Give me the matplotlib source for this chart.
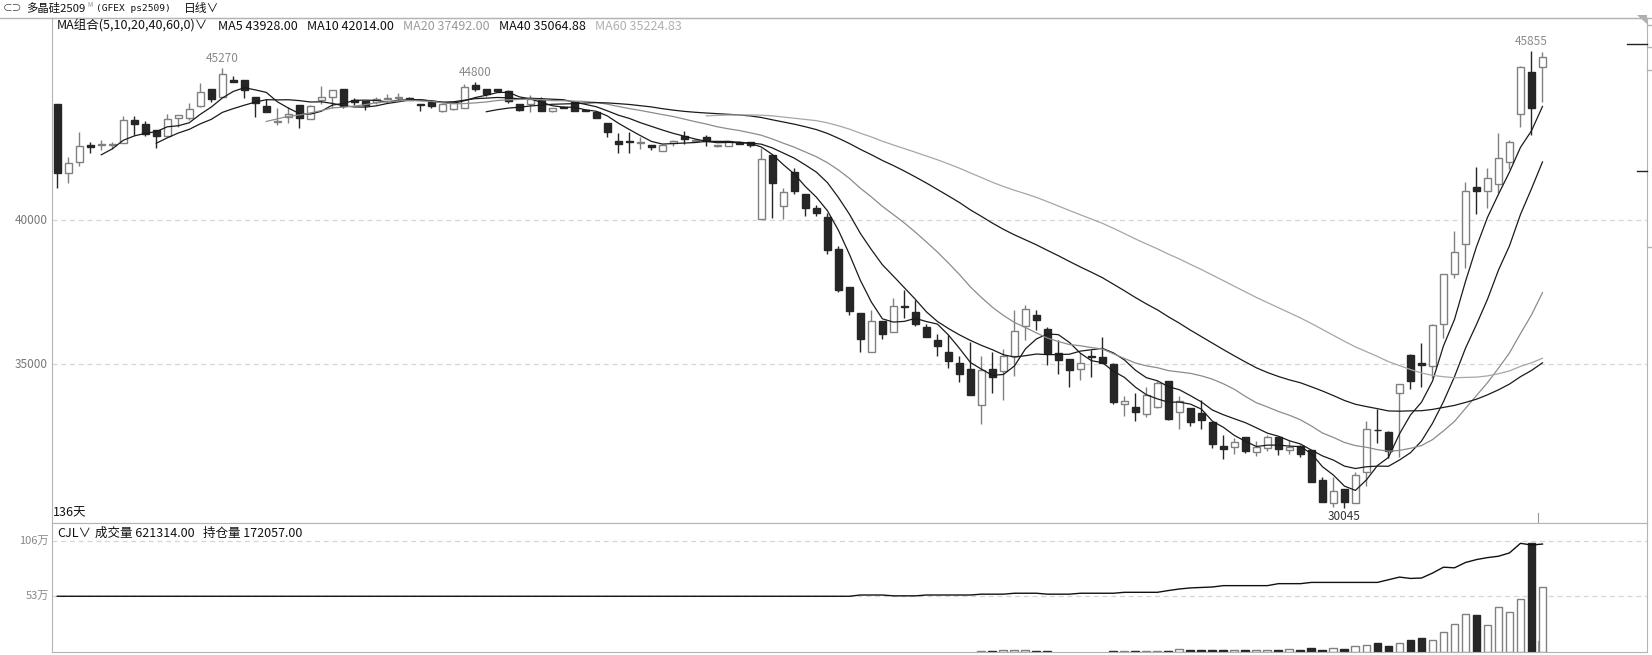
import matplotlib
matplotlib.use("Agg")
import matplotlib.pyplot as plt
import numpy as np
import pandas as pd

plt.rcParams['font.family'] = ['Noto Sans CJK SC', 'DejaVu Sans']

# daily OHLC, 136 bars (多晶硅2509)
opens = [
    44026, 41625, 42006, 42606, 42600, 42620, 42665, 43461, 43322, 43115,
    42918, 43531, 43531, 43968, 44546, 44269, 44858, 44858, 44258, 43957,
    43400, 43576, 43992, 43496, 44155, 44258, 44546, 44165, 44130, 44085,
    44200, 44220, 44230, 44036, 44096, 43794, 43840, 43876, 44685, 44557,
    44534, 44477, 44016, 44016, 44165, 43794, 43930, 44085, 43830, 43760,
    43373, 42745, 42740, 42660, 42605, 42398, 42660, 42918, 42730, 42895,
    42580, 42570, 42720, 42700, 40030, 42259, 40482, 41670, 40908, 40434,
    40099, 39002, 37685, 36784, 35423, 36507, 36137, 37020, 36809, 36299,
    35838, 35423, 35052, 34834, 33587, 34834, 34764, 35284, 36334, 36705,
    36230, 35388, 35180, 34840, 35300, 35250, 35007, 33632, 33538, 33274,
    33538, 34428, 33354, 33482, 33308, 32997, 32166, 32131, 32477, 31957,
    32108, 32477, 32039, 32166, 32037, 30998, 30190, 30686, 30212, 31285,
    32742, 32651, 34002, 35330, 35041, 34948, 36393, 38125, 39165, 41140,
    41012, 41244, 42027, 43680, 45125, 45298]
highs = [
    44026, 42200, 43045, 42699, 42779, 42700, 43611, 43611, 43438, 43115,
    43669, 43635, 44050, 44743, 44546, 45270, 45007, 44858, 44258, 44190,
    43898, 43933, 43992, 44000, 44661, 44501, 44546, 44240, 44130, 44280,
    44380, 44415, 44260, 44036, 44140, 44060, 44140, 44719, 44800, 44557,
    44534, 44510, 44040, 44338, 44260, 43876, 43950, 44120, 43830, 43760,
    43373, 43032, 43067, 42870, 42605, 42605, 42780, 43080, 42800, 42950,
    42620, 42740, 42740, 42700, 42491, 42259, 41127, 41819, 40908, 40520,
    40238, 39106, 37685, 36784, 36888, 36507, 37293, 37571, 37245, 36414,
    36050, 36022, 35305, 35769, 35305, 35423, 35527, 36888, 37060, 36888,
    36300, 35838, 35180, 35400, 35500, 35963, 35063, 33909, 34002, 34210,
    34420, 34428, 33921, 33482, 33770, 32997, 32557, 32440, 32477, 32360,
    32557, 32500, 32380, 32200, 32037, 31092, 31110, 30686, 31288, 33053,
    33458, 32700, 34314, 35380, 35734, 36400, 38150, 39626, 41313, 41833,
    41798, 43011, 42780, 45340, 45855, 45820]
lows = [
    41105, 41300, 41878, 42339, 42432, 42480, 42665, 42952, 42906, 42491,
    42918, 43240, 43480, 43933, 44106, 44269, 44778, 44224, 43586, 43760,
    43298, 43356, 43184, 43496, 44036, 43876, 43900, 43980, 43818, 44036,
    44150, 44180, 44150, 43794, 43898, 43760, 43820, 43876, 44480, 44300,
    44470, 44050, 43790, 43760, 43794, 43760, 43880, 43794, 43770, 43531,
    42892, 42318, 42340, 42470, 42420, 42398, 42570, 42640, 42700, 42570,
    42520, 42570, 42650, 42530, 40030, 40065, 40030, 40908, 40156, 40156,
    38818, 37520, 36715, 35444, 35423, 35873, 36137, 36601, 36350, 35953,
    35305, 34868, 34404, 33954, 32928, 34002, 33781, 34591, 35838, 36195,
    34983, 34681, 34210, 34450, 34556, 35063, 33632, 33215, 33042, 33180,
    33500, 33060, 32755, 32869, 32770, 32097, 31715, 31900, 31950, 31840,
    32000, 31880, 31900, 31780, 30940, 30236, 30073, 30045, 30212, 30790,
    32270, 31750, 31805, 34141, 34210, 34522, 35907, 37987, 38354, 40204,
    40433, 40953, 41764, 43219, 42952, 44085]
closes = [
    41625, 41970, 42571, 42526, 42640, 42650, 43461, 43322, 42975, 42929,
    43496, 43635, 43853, 44432, 44190, 45056, 44778, 44501, 44050, 43760,
    43430, 43690, 43552, 43946, 44258, 44501, 43968, 44085, 43992, 44200,
    44250, 44258, 44170, 43992, 43968, 44026, 44085, 44626, 44546, 44373,
    44477, 44141, 43830, 44190, 43794, 43876, 43900, 43794, 43770, 43531,
    43067, 42640, 42700, 42720, 42526, 42605, 42730, 42803, 42790, 42730,
    42600, 42730, 42640, 42600, 42109, 41299, 40967, 41022, 40434, 40260,
    38967, 37581, 36864, 35894, 36507, 36067, 37016, 36990, 36414, 35953,
    35630, 35132, 34681, 33954, 34799, 34556, 35284, 36150, 36913, 36532,
    35410, 35166, 34799, 35040, 35250, 35063, 33690, 33725, 33344, 33933,
    34349, 33122, 33735, 32997, 33064, 32256, 32062, 32325, 31992, 32154,
    32500, 32062, 32154, 31899, 30940, 30236, 30606, 30246, 31161, 32765,
    32720, 32013, 34314, 34439, 34972, 36369, 38125, 38888, 41022, 41001,
    41452, 42145, 42720, 45298, 43877, 45666]

# volume in 万手 (too small to show before bar 85)
volumes = [
    0, 0, 0, 0, 0, 0, 0, 0, 0, 0,
    0, 0, 0, 0, 0, 0, 0, 0, 0, 0,
    0, 0, 0, 0, 0, 0, 0, 0, 0, 0,
    0, 0, 0, 0, 0, 0, 0, 0, 0, 0,
    0, 0, 0, 0, 0, 0, 0, 0, 0, 0,
    0, 0, 0, 0, 0, 0, 0, 0, 0, 0,
    0, 0, 0, 0, 0, 0, 0, 0, 0, 0,
    0, 0, 0, 0, 0, 0, 0, 0, 0, 0,
    0, 0, 0, 0, 0.6, 0.6, 1.2, 1.6, 1.3, 0.9,
    0.9, 0, 0, 0, 0, 0, 0.7, 0.7, 0.7, 0.8,
    0.8, 0.8, 2.0, 1.0, 1.0, 1.1, 1.8, 1.5, 1.0, 1.1,
    1.2, 1.9, 2.5, 1.9, 3.8, 1.9, 3.8, 2.8, 5.0, 6.6,
    7.8, 5.0, 8.5, 10.7, 12.5, 11.3, 18.8, 26.3, 35.8, 35.1,
    25.4, 42.3, 37.6, 49.9, 103.8, 62.1]

# open interest line, as drawn in the volume pane (pane units)
oi_line = [
    53.0, 53.0, 53.0, 53.0, 53.0, 53.0, 53.0, 53.0, 53.0, 53.0,
    53.0, 53.0, 53.0, 53.0, 53.0, 53.0, 53.0, 53.0, 53.0, 53.0,
    53.0, 53.0, 53.0, 53.0, 53.0, 53.0, 53.0, 53.0, 53.0, 53.0,
    53.0, 53.0, 53.0, 53.0, 53.0, 53.0, 53.0, 53.0, 53.0, 53.0,
    53.0, 53.0, 53.0, 53.0, 53.0, 53.0, 53.0, 53.0, 53.0, 53.0,
    53.0, 53.0, 53.0, 53.0, 53.0, 53.0, 53.0, 53.0, 53.0, 53.0,
    53.0, 53.0, 53.0, 53.0, 53.0, 53.0, 53.0, 53.0, 53.0, 53.0,
    53.0, 53.0, 53.0, 54.2, 54.2, 54.2, 53.4, 53.4, 53.4, 54.2,
    54.2, 54.2, 54.2, 54.2, 55.0, 55.0, 55.0, 55.9, 55.9, 55.9,
    55.0, 55.0, 55.0, 55.9, 55.9, 55.9, 55.9, 56.8, 56.8, 56.8,
    56.8, 58.5, 60.0, 61.0, 61.5, 61.9, 63.2, 63.2, 63.2, 63.2,
    63.2, 65.1, 65.1, 65.1, 66.3, 66.3, 66.3, 66.3, 66.3, 66.3,
    66.3, 68.9, 71.4, 70.1, 70.5, 75.2, 80.9, 80.3, 85.4, 88.2,
    90.1, 91.4, 94.6, 103.8, 102.2, 103.1]

ma_windows = [5, 10, 20, 40, 60]
ma_colors = ['#1a1a1a', '#1a1a1a', '#8c8c8c', '#1a1a1a', '#a6a6a6']
ma_header = ["MA5 43928.00", "MA10 42014.00", "MA20 37492.00", "MA40 35064.88", "MA60 35224.83"]
ma_header_x = [218, 307, 403, 499, 595]
ma_header_colors = ['#111111', '#111111', '#9a9a9a', '#111111', '#b0b0b0']

price_ticks = [40000, 35000]
vol_ticks = [106, 53]
vol_tick_labels = ["106万", "53万"]

W, H = 1652, 655
fig = plt.figure(figsize=(W / 100, H / 100), dpi=100)
fig.patch.set_facecolor('white')


def box(x0, y0, x1, y1):
    return [x0 / W, 1 - y1 / H, (x1 - x0) / W, (y1 - y0) / H]


def ftext(x, y, s, **kw):
    fig.text(x / W, 1 - y / H, s, **kw)


axis_grey = '#b4b4b4'
up_edge = '#808080'
down_fill = '#262626'

o = np.array(opens, float)
h = np.array(highs, float)
l = np.array(lows, float)
c = np.array(closes, float)
v = np.array(volumes, float)
n = len(c)
x = np.arange(n)
up = c >= o

# price pane
ax = fig.add_axes(box(52, 18, 1647, 523))
ax.set_xlim(-0.48, 144.5)
ax.set_ylim(29508, 47006)
for y in price_ticks:
    ax.axhline(y, color='#d6d6d6', lw=0.9, ls=(0, (4, 3)), zorder=0)

top = np.maximum(o, c)
bot = np.minimum(o, c)
ax.vlines(x[up], top[up], h[up], color=up_edge, lw=1, zorder=2)
ax.vlines(x[up], l[up], bot[up], color=up_edge, lw=1, zorder=2)
ax.vlines(x[~up], l[~up], h[~up], color=down_fill, lw=1, zorder=2)
ax.bar(x[up], (top - bot)[up], bottom=bot[up], width=0.68,
       facecolor='white', edgecolor=up_edge, lw=1, zorder=3)
ax.bar(x[~up], (top - bot)[~up], bottom=bot[~up], width=0.68,
       facecolor=down_fill, edgecolor=down_fill, lw=1, zorder=3)

close_s = pd.Series(c)
for win, col in zip(ma_windows, ma_colors):
    ax.plot(x, close_s.rolling(win).mean(), color=col, lw=0.9, zorder=4)

# extreme labels
for idx, txt in [(15, "45270"), (38, "44800"), (134, "45855")]:
    ax.annotate(txt, xy=(idx, h[idx]), xytext=(0, 2), textcoords='offset points',
                ha='center', va='bottom', fontsize=8.5, color='#8a8a8a')
ax.annotate("30045", xy=(117, l[117]), xytext=(0, -2), textcoords='offset points',
            ha='center', va='top', fontsize=8.5, color='#333333')
ax.plot([134.6, 134.6], [29508, 29850], color='#999999', lw=0.8)

ax.set_xticks([])
ax.set_yticks([])
for side in ['top', 'right', 'left', 'bottom']:
    ax.spines[side].set_color(axis_grey)

# volume pane
axv = fig.add_axes(box(52, 523, 1647, 651.5))
axv.set_xlim(-0.48, 144.5)
axv.set_ylim(0, 123.3)
for y in vol_ticks:
    axv.axhline(y, color='#d6d6d6', lw=0.9, ls=(0, (4, 3)), zorder=0)
vup = up & (v > 0)
vdn = (~up) & (v > 0)
axv.bar(x[vup], v[vup], width=0.72, facecolor='white', edgecolor=up_edge, lw=1, zorder=2)
axv.bar(x[vdn], v[vdn], width=0.72, facecolor=down_fill, edgecolor=down_fill, lw=1, zorder=2)
axv.plot(x, oi_line, color='#111111', lw=1, zorder=3)
axv.plot([134.6, 134.6], [0, 10], color='#999999', lw=0.8, zorder=4)
axv.set_xticks([])
axv.set_yticks([])
for side in ['top', 'right', 'left', 'bottom']:
    axv.spines[side].set_color(axis_grey)

# axis labels on the left
for y in price_ticks:
    ypx = 220.2 - (y - 40000) / 34.65
    ftext(48, ypx, str(y), ha='right', va='center', fontsize=8.5, color='#777777')
for y, lab in zip(vol_ticks, vol_tick_labels):
    ypx = 651.5 - y * (128.5 / 123.3)
    ftext(49, ypx, lab, ha='right', va='center', fontsize=8, color='#888888')

# header line
fig.add_artist(plt.Line2D([0, 1], [1 - 18 / H, 1 - 18 / H], color=axis_grey, lw=1))
ftext(3, 8.5, "⊂⊃", ha='left', va='center', fontsize=7, color='#444444')
ftext(26, 8.5, "多晶硅2509", ha='left', va='center', fontsize=8.2, color='#111111')
ftext(87, 5, "M", ha='left', va='center', fontsize=4.5, color='#888888')
ftext(96, 8.5, "(GFEX ps2509)", ha='left', va='center', fontsize=6.8,
      family=['DejaVu Sans Mono'], color='#111111')
ftext(184, 8.5, "日线∨", ha='left', va='center', fontsize=8.5, color='#111111')

ftext(57, 26, "MA组合(5,10,20,40,60,0)∨", ha='left', va='center', fontsize=9, color='#111111')
for s, xp, col in zip(ma_header, ma_header_x, ma_header_colors):
    ftext(xp, 26, s, ha='left', va='center', fontsize=9, color=col)

ftext(53, 513, "136天", ha='left', va='center', fontsize=9, color='#111111')
ftext(57, 533, "CJL∨", ha='left', va='center', fontsize=9, color='#111111')
ftext(95, 533, "成交量 621314.00", ha='left', va='center', fontsize=9, color='#111111')
ftext(203, 533, "持仓量 172057.00", ha='left', va='center', fontsize=9, color='#111111')

# right edge bits
for ypx in [25, 47, 70, 247]:
    fig.add_artist(plt.Line2D([1647 / W, 1], [1 - ypx / H] * 2, color=axis_grey, lw=1))
fig.add_artist(plt.Line2D([1627 / W, 1647 / W], [1 - 44 / H] * 2, color='#222222', lw=1))
fig.add_artist(plt.Line2D([1637 / W, 1647 / W], [1 - 171 / H] * 2, color='#222222', lw=1))
fig.add_artist(plt.Polygon([[1637 / W, 1 - 15 / H], [1647 / W, 1 - 15 / H], [1647 / W, 1 - 24 / H]],
                           closed=True, facecolor='#b0b0b0', edgecolor='none'))

fig.savefig("out.png", dpi=100, facecolor='white')
